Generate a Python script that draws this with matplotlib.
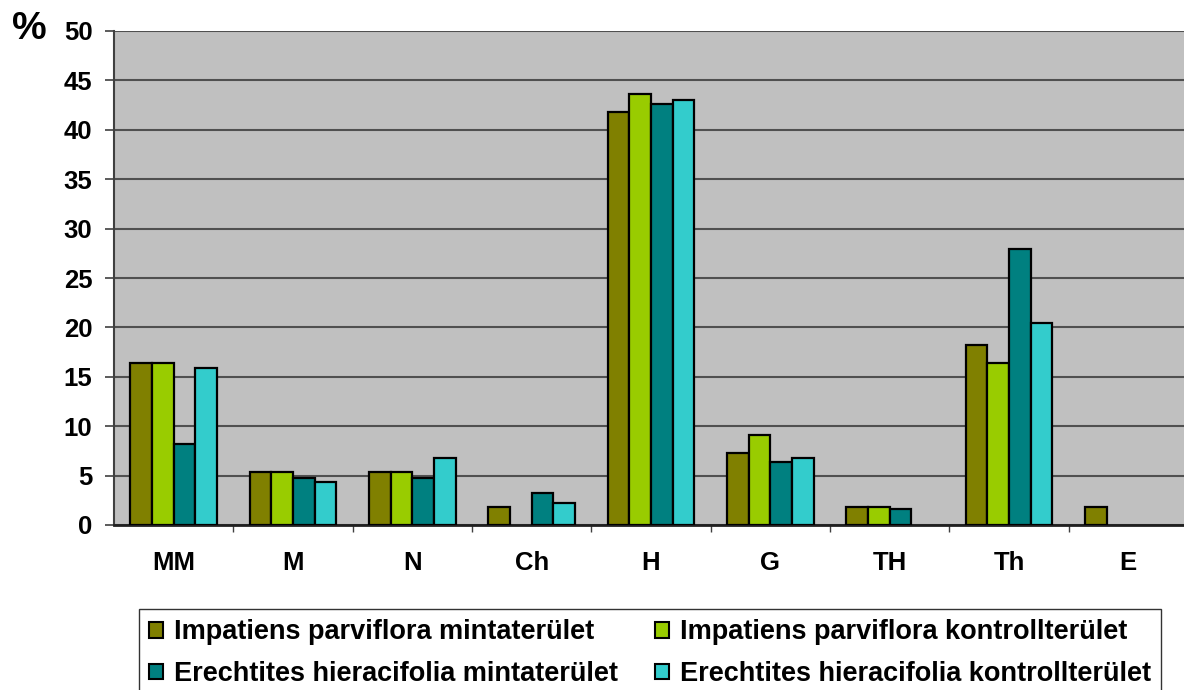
import numpy as np
import matplotlib
matplotlib.use("Agg")
import matplotlib.pyplot as plt
from matplotlib.patches import Patch

plt.rcParams['font.family'] = ['Liberation Sans', 'DejaVu Sans']
plt.rcParams['font.weight'] = 'bold'

categories = ["MM", "M", "N", "Ch", "H", "G", "TH", "Th", "E"]
series_names = [
    "Impatiens parviflora mintaterület",
    "Impatiens parviflora kontrollterület",
    "Erechtites hieracifolia mintaterület",
    "Erechtites hieracifolia kontrollterület",
]
imp_minta = [16.4, 5.4, 5.4, 1.8, 41.8, 7.3, 1.8, 18.2, 1.8]
imp_kontroll = [16.4, 5.4, 5.4, 0, 43.6, 9.1, 1.8, 16.4, 0]
ere_minta = [8.2, 4.8, 4.8, 3.2, 42.6, 6.4, 1.6, 27.9, 0]
ere_kontroll = [15.9, 4.4, 6.8, 2.2, 43.0, 6.8, 0, 20.4, 0]
colors = ["#808000", "#99CC00", "#008080", "#33CCCC"]

W, H = 1184, 690
fig = plt.figure(figsize=(W / 100, H / 100), dpi=100)
ax = fig.add_axes([114 / W, 1 - 525 / H, (1188 - 114) / W, (525 - 31) / H])
ax.set_facecolor("#C0C0C0")

x = np.arange(len(categories))
bw = 0.182
series = [imp_minta, imp_kontroll, ere_minta, ere_kontroll]
for i, (vals, c) in enumerate(zip(series, colors)):
    v = np.array(vals, dtype=float)
    mask = v > 0
    ax.bar(x[mask] + (i - 1.5) * bw, v[mask], width=bw, color=c,
           edgecolor="black", linewidth=1.6, zorder=3)

ax.set_xlim(-0.5, len(categories) - 0.5)
ax.set_ylim(0, 50)
ax.set_yticks(np.arange(0, 51, 5))
ax.yaxis.grid(True, color="#505050", linewidth=1.5, zorder=1)
ax.set_axisbelow(True)

ax.set_xticks(x)
ax.set_xticklabels(categories, fontsize=18.5, fontweight="bold")
ax.tick_params(axis="x", length=0, pad=19)
ax.set_xticks(np.arange(0.5, len(categories) - 0.5, 1), minor=True)
ax.tick_params(axis="x", which="minor", length=5, width=1, color="#404040")
ax.tick_params(axis="y", length=6.5, width=1.2, color="#404040", labelsize=18.5, pad=9)
for lab in ax.get_yticklabels():
    lab.set_fontweight("bold")

for s in ["top", "right"]:
    ax.spines[s].set_visible(False)
ax.spines["left"].set_color("#404040")
ax.spines["left"].set_linewidth(1.5)
ax.spines["bottom"].set_color("#202020")
ax.spines["bottom"].set_linewidth(2)

fig.text(29 / W, 1 - 29 / H, "%", fontsize=28, fontweight="bold",
         ha="center", va="center")

handles = [Patch(facecolor=c, edgecolor="black", linewidth=1.5) for c in colors]
order = [0, 2, 1, 3]
leg = fig.legend([handles[i] for i in order], [series_names[i] for i in order],
                 ncol=2, loc="upper left", bbox_to_anchor=(139 / W, 1 - 609 / H),
                 borderaxespad=0, prop={"weight": "bold", "size": 19.5},
                 frameon=True, fancybox=False, handlelength=0.52, handleheight=0.52,
                 handletextpad=0.4, borderpad=0.38, labelspacing=0.58,
                 columnspacing=1.35)
leg.get_frame().set_edgecolor("black")
leg.get_frame().set_linewidth(1.0)

fig.savefig("out.png", dpi=100)
